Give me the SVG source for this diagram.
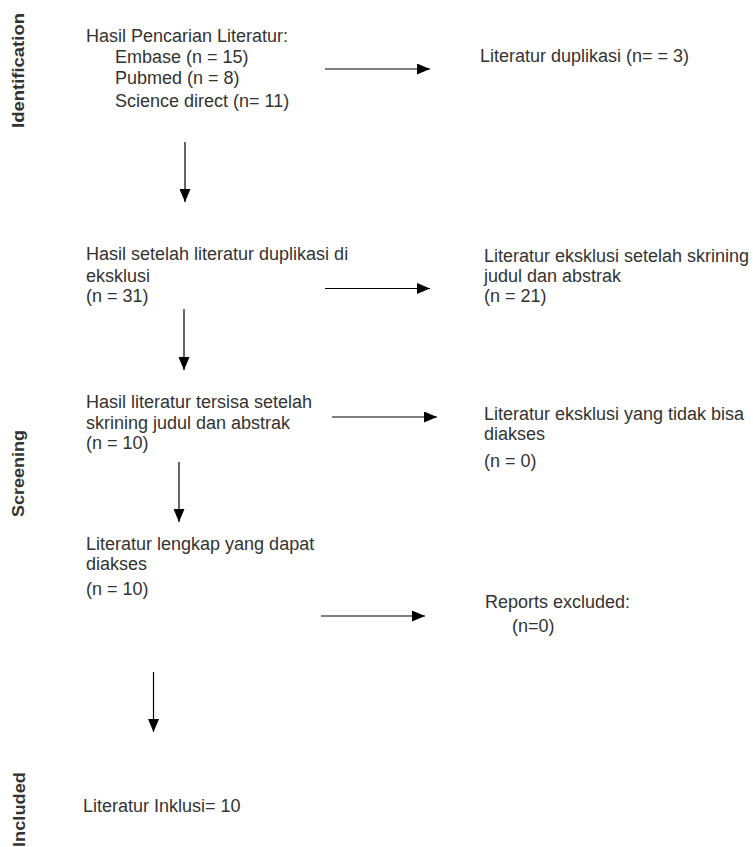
<svg xmlns="http://www.w3.org/2000/svg" width="753" height="847" viewBox="0 0 753 847">
<style>
.t{font-family:"Liberation Sans",Arial,sans-serif;font-size:18px;fill:#333}
.side{font-family:"Liberation Sans",Arial,sans-serif;font-size:16px;font-weight:bold;fill:#333;text-anchor:middle}
.c{stroke:#000;stroke-width:1.2;fill:none;marker-end:url(#ah)}
</style>
<defs>
<marker id="ah" markerUnits="userSpaceOnUse" markerWidth="13" markerHeight="11" refX="13" refY="5.5" orient="auto">
<path d="M0,0 L13,5.5 L0,11 Z" fill="#000"/>
</marker>
</defs>
<rect width="753" height="847" fill="#fff"/>
<g id="labels">
<text class="side" transform="translate(24,70.5) rotate(-90)" textLength="115" lengthAdjust="spacingAndGlyphs">Identification</text>
<text class="side" transform="translate(24,473.5) rotate(-90)" textLength="87" lengthAdjust="spacingAndGlyphs">Screening</text>
<text class="side" transform="translate(25,809.5) rotate(-90)" textLength="75" lengthAdjust="spacingAndGlyphs">Included</text>
</g>
<g id="n1">
<text class="t" x="86" y="42">Hasil Pencarian Literatur:</text>
<text class="t" x="115" y="63">Embase (n = 15)</text>
<text class="t" x="115" y="83.5">Pubmed (n = 8)</text>
<text class="t" x="115" y="106.5">Science direct (n= 11)</text>
</g>
<g id="n2">
<text class="t" x="480" y="62">Literatur duplikasi (n= = 3)</text>
</g>
<g id="n3">
<text class="t" x="86" y="260">Hasil setelah literatur duplikasi di</text>
<text class="t" x="86" y="282">eksklusi</text>
<text class="t" x="86" y="302">(n = 31)</text>
</g>
<g id="n4">
<text class="t" x="484" y="262">Literatur eksklusi setelah skrining</text>
<text class="t" x="484" y="282">judul dan abstrak</text>
<text class="t" x="484" y="302">(n = 21)</text>
</g>
<g id="n5">
<text class="t" x="86" y="408">Hasil literatur tersisa setelah</text>
<text class="t" x="86" y="428.5">skrining judul dan abstrak</text>
<text class="t" x="86" y="449">(n = 10)</text>
</g>
<g id="n6">
<text class="t" x="484" y="420">Literatur eksklusi yang tidak bisa</text>
<text class="t" x="484" y="439.5">diakses</text>
<text class="t" x="484" y="466.5">(n = 0)</text>
</g>
<g id="n7">
<text class="t" x="86" y="550">Literatur lengkap yang dapat</text>
<text class="t" x="86" y="570">diakses</text>
<text class="t" x="86" y="595">(n = 10)</text>
</g>
<g id="n8">
<text class="t" x="485" y="608">Reports excluded:</text>
<text class="t" x="512" y="632">(n=0)</text>
</g>
<g id="n9">
<text class="t" x="83" y="812">Literatur Inklusi= 10</text>
</g>
<g id="connectors">
<line class="c" x1="325" y1="69" x2="430" y2="69"/>
<line class="c" x1="185" y1="142" x2="185" y2="202"/>
<line class="c" x1="325" y1="288.5" x2="430" y2="288.5"/>
<line class="c" x1="184" y1="309" x2="184" y2="370"/>
<line class="c" x1="332" y1="417" x2="437" y2="417"/>
<line class="c" x1="179" y1="462" x2="179" y2="522"/>
<line class="c" x1="321" y1="616" x2="425" y2="616"/>
<line class="c" x1="153.5" y1="672" x2="153.5" y2="732"/>
</g>
</svg>
